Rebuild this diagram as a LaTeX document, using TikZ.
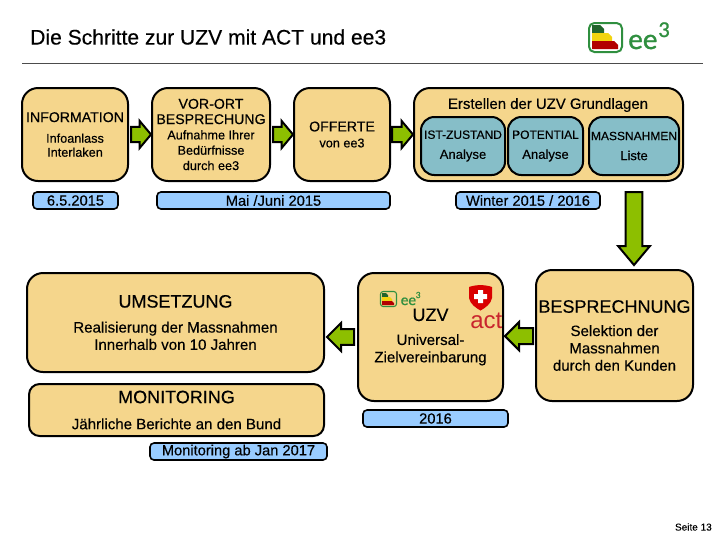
\documentclass[tikz,border=0pt]{standalone}
\usepackage{fontspec}
\setmainfont{Liberation Sans}[FakeBold=0.3]
\newfontfamily\logofont{Carlito}[FakeBold=1]
\newfontfamily\actfont{Liberation Sans}
\usetikzlibrary{shapes.arrows}
\definecolor{boxfill}{HTML}{F5D68C}
\definecolor{innerfill}{HTML}{86BEC8}
\definecolor{datefill}{HTML}{99CCFF}
\definecolor{arrowfill}{HTML}{8DBF00}
\definecolor{logogreen}{HTML}{2F8F3F}
\definecolor{logored}{HTML}{C9252D}
\tikzset{
    boxsize/.style 2 args={minimum width=#1*0.75pt, minimum height=#2*0.75pt},
    stepbox/.style={draw, line width=1.5pt, fill=boxfill, rounded corners=12pt, inner sep=0pt, outer sep=0pt, align=center, font=\fontsize{9.5}{11.5}\selectfont},
    lowerbox/.style={stepbox, font=\fontsize{11.3}{13}\selectfont},
    innerbox/.style={stepbox, fill=innerfill, rounded corners=10pt, font=\fontsize{9}{12}\selectfont},
    datebox/.style={draw, line width=1.2pt, fill=datefill, rounded corners=3pt, inner sep=0pt, outer sep=0pt, font=\fontsize{11}{12}\selectfont},
    blockarrow/.style={draw, line width=1.5pt, fill=arrowfill, single arrow, anchor=tail, inner xsep=0pt, inner ysep=4.9pt, outer sep=0pt, single arrow head extend=4.5pt, single arrow tip angle=100},
}
\newcommand{\boxtitle}[1]{{\fontsize{10.6}{12}\selectfont #1}}
\newcommand{\bigtitle}[1]{{\fontsize{13.5}{18}\selectfont #1}}
\newcommand{\analysetext}[1]{{\fontsize{9.8}{12}\selectfont #1}}
\begin{document}
\begin{tikzpicture}[x=0.75pt, y=-0.75pt]
    \useasboundingbox (0,0) rectangle (720,540);
    % heading
    \node[anchor=west, inner sep=0pt, font=\fontsize{15.8}{18}\selectfont] (title) at (30,37) {Die Schritte zur UZV mit ACT und ee3};
    \coordinate (rulea) at (22,63.5);
    \coordinate (ruleb) at (703,63.5);
    \draw[line width=0.5pt, black!70] (rulea) -- (ruleb);
    % logo top right
    \draw[logogreen, line width=1.5pt, rounded corners=4pt] (589,23) rectangle (622,52);
    \fill[logogreen!70!black] (592,25) -- (600,25) -- (604,29) -- (604,33) -- (592,33) -- cycle;
    \fill[yellow!80!orange!95!black] (592,33) -- (608,33) -- (612,37) -- (612,41) -- (592,41) -- cycle;
    \fill[red!70!black] (592,41) -- (614,41) -- (618,45) -- (618,49) -- (592,49) -- cycle;
    \node[anchor=base west, inner sep=0pt, text=logogreen, font=\logofont\fontsize{22}{22}\selectfont] (logotext) at (628,49) {ee};
    \node[anchor=base west, inner sep=0pt, text=logogreen, font=\logofont\fontsize{17}{17}\selectfont] (logoexp) at (658,37) {3};
    % top row
    \node[stepbox, boxsize={106}{93}] (information) at (75,134.5) {\boxtitle{INFORMATION}\\[4pt]Infoanlass\\[-1pt]Interlaken};
    \node[stepbox, boxsize={118}{93}] (vorort) at (211,134.5) {\boxtitle{VOR-ORT}\\\boxtitle{BESPRECHUNG}\\Aufnahme Ihrer\\Bedürfnisse\\durch ee3};
    \node[stepbox, boxsize={96}{93}] (offerte) at (342,134.5) {\boxtitle{OFFERTE}\\[0.5pt]von ee3};
    \node[stepbox, boxsize={269}{93}] (grundlagen) at (548.5,134.5) {};
    \node[inner sep=0pt, font=\fontsize{11.2}{13}\selectfont] (grundtitle) at (548,105) {Erstellen der UZV Grundlagen};
    \node[innerbox, boxsize={84}{58}] (istzustand) at (463,146) {IST-ZUSTAND\\[3pt]\analysetext{Analyse}};
    \node[innerbox, boxsize={75}{58}] (potential) at (545.5,146) {POTENTIAL\\[3pt]\analysetext{Analyse}};
    \node[innerbox, boxsize={90}{58}] (massnahmen) at (634,146) {MASSNAHMEN\\[3pt]\analysetext{Liste}};
    % dates
    \node[datebox, boxsize={85}{17}] (date) at (75.5,200.5) {6.5.2015};
    \node[datebox, boxsize={233}{17}] (maijuni) at (273.5,200.5) {Mai /Juni 2015};
    \node[datebox, boxsize={144}{17}] (winter) at (528,200.5) {Winter 2015 / 2016};
    % lower row
    \node[lowerbox, boxsize={157}{131}] (besprechung) at (614.5,335.5) {\bigtitle{BESPRECHNUNG}\\[4.5pt]Selektion der\\Massnahmen\\durch den Kunden};
    \node[lowerbox, boxsize={145}{128}] (uzv) at (430.5,337) {\bigtitle{UZV}\\[5pt]Universal-\\Zielvereinbarung};
    \node[datebox, boxsize={145}{17}] (jahr) at (435.5,418.5) {2016};
    \node[lowerbox, boxsize={297}{99}] (umsetzung) at (175.5,322.5) {\bigtitle{UMSETZUNG}\\[5.7pt]Realisierung der Massnahmen\\Innerhalb von 10 Jahren};
    \node[lowerbox, rounded corners=8pt, boxsize={295}{52}] (monitoring) at (176.5,410) {\bigtitle{MONITORING}\\[6.5pt]Jährliche Berichte an den Bund};
    \node[datebox, boxsize={177}{17}] (monitoringab) at (238.5,451.5) {Monitoring ab  Jan 2017};
    % small logos in the UZV box
    \draw[logogreen, line width=0.8pt, rounded corners=2pt] (380.5,291.5) rectangle (396.5,306.5);
    \fill[logogreen!70!black] (382,293) -- (386,293) -- (388,295) -- (388,297) -- (382,297) -- cycle;
    \fill[yellow!80!orange!95!black] (382,297) -- (390,297) -- (392,299) -- (392,301) -- (382,301) -- cycle;
    \fill[red!70!black] (382,301) -- (392,301) -- (394,303) -- (394,305) -- (382,305) -- cycle;
    \node[anchor=base west, inner sep=0pt, text=logogreen, font=\logofont\fontsize{11.5}{13}\selectfont] (uzvee) at (400.5,305) {ee};
    \node[anchor=base west, inner sep=0pt, text=logogreen, font=\logofont\fontsize{7}{7}\selectfont] (uzvexp) at (415.5,298) {3};
    \fill[red!85!black] (469,287) .. controls (476,284.5) and (485,284.5) .. (492,287) -- (492,298) .. controls (491,304) and (485,308) .. (480.5,310.5) .. controls (476,308) and (470,304) .. (469,298) -- cycle;
    \fill[white] (478,290) rectangle (483,303) (474,294) rectangle (487,299);
    \node[anchor=base west, inner sep=0pt, text=logored, font=\actfont\fontsize{18}{18}\selectfont] (act) at (470,328) {act};
    % arrows
    \path (information) -- (vorort) node[blockarrow, pos=0, xshift=2.25pt, boxsize={25}{20}] (arrowa) {};
    \path (vorort) -- (offerte) node[blockarrow, pos=0, xshift=2.25pt, boxsize={25}{20}] (arrowb) {};
    \path (offerte) -- (grundlagen) node[blockarrow, pos=0, xshift=1.5pt, boxsize={25}{21}] (arrowc) {};
    \path (winter.north -| massnahmen) node[blockarrow, rotate=-90, inner ysep=5.6pt, single arrow head extend=5.6pt, single arrow tip angle=80, boxsize={30}{73}] (arrowd) {};
    \path (besprechung) -- (uzv) node[blockarrow, pos=0, xshift=-2.25pt, rotate=180, inner ysep=5.2pt, single arrow tip angle=90, boxsize={28}{28}] (arrowe) {};
    \path (uzv.west) -- (umsetzung.east |- uzv.west) node[blockarrow, pos=0, xshift=-3pt, rotate=180, inner ysep=5.2pt, single arrow tip angle=90, boxsize={28}{27}] (arrowf) {};
    % page number
    \node[anchor=east, inner sep=0pt, font=\fontsize{7.5}{9}\selectfont] (seite) at (712,527) {Seite  13};
\end{tikzpicture}
\end{document}
